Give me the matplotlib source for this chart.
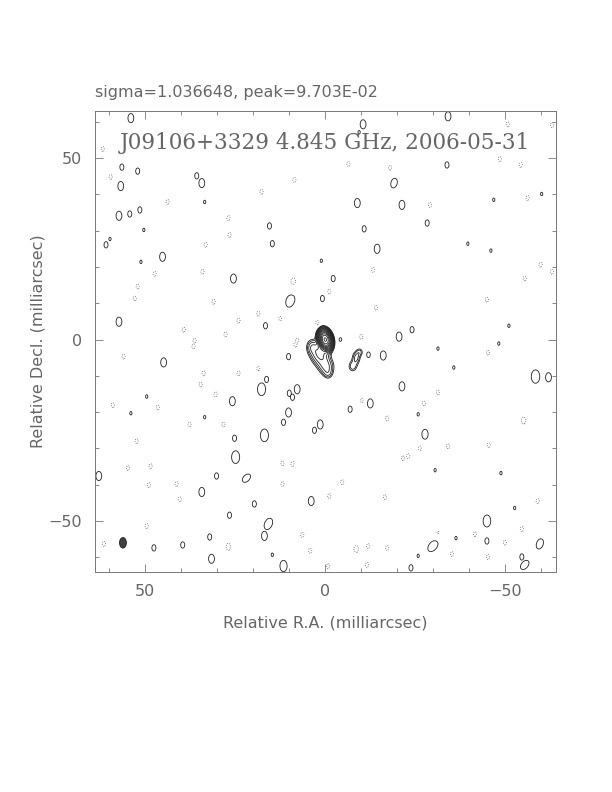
# mapa de contorno VLBI - J09106+3329 4.845 GHz
import numpy as np
import matplotlib.pyplot as plt
from matplotlib.patches import Ellipse

# textos
top_text = 'sigma=1.036648, peak=9.703E-02'
title = 'J09106+3329 4.845 GHz, 2006-05-31'
xlabel = 'Relative R.A. (milliarcsec)'
ylabel = 'Relative Decl. (milliarcsec)'
ticks = [-50, 0, 50]

# componentes da fonte (mas, mJy/beam, sigma x, sigma y, PA graus)
comp_x = [0.0, 1.5, -0.3, 3.8, -0.8, -8.6, -7.6, -9.6, -4.2]
comp_y = [0.0, -4.0, -7.5, -2.0, -9.5, -5.0, -7.4, -3.4, 0.0]
comp_amp = [97.0, 4.5, 2.8, 2.0, 1.3, 2.2, 1.8, 1.4, 1.3]
comp_sx = [0.85, 1.6, 1.4, 1.0, 0.9, 0.8, 0.9, 0.7, 0.5]
comp_sy = [1.3, 2.0, 1.5, 1.4, 1.0, 1.2, 1.1, 0.8, 0.7]
comp_pa = [15, 10, 0, 0, 0, 0, 0, 0, 0]

# manchas de ruido positivas (mas, escala de tamanho)
pos_x = [54.0, 56.5, 52.1, 35.7, 34.3, 56.8, 57.3, 54.3, 51.5, 50.4, 59.8, 60.9,
         45.2, 51.2, 25.5, 57.3, 33.5, -10.5, -9.4, -8.9, -21.3, 15.5, -10.8, 14.7,
         -14.4, 1.1, -2.2, 0.8, 16.6, -20.5, -34.1, -33.8, -28.3, -24.1, -60.1, -46.8,
         -39.6, -46.0, -51.0, 44.9, 25.8, 24.9, 25.2, 62.9, 30.2, 34.3, 26.6, 32.1,
         47.6, 39.6, 31.6, 49.6, 54.0, 33.5, -16.1, -12.0, 10.2, 16.3, 17.7, 7.8,
         10.0, 9.1, -21.3, -12.5, -6.9, 10.2, 11.6, 1.4, 3.0, 16.9, 3.9, 19.7,
         16.9, 14.7, 11.6, -58.4, -62.0, -27.7, -44.9, -44.9, -54.6, -23.8, -31.3, -35.7,
         -25.8, -30.5, -48.8, -52.6, -36.3, -25.8, -48.2]
pos_y = [61.0, 47.5, 46.4, 45.1, 43.1, 42.3, 34.1, 34.6, 35.7, 30.2, 27.7, 26.1,
         22.8, 21.4, 16.8, 4.9, 37.9, 59.3, 57.1, 37.6, 37.1, 31.3, 30.5, 26.4,
         25.0, 21.7, 16.8, 11.3, 3.8, 0.8, 61.5, 48.1, 32.1, 2.7, 40.1, 38.5,
         26.4, 24.5, 3.8, -6.3, -17.0, -32.4, -27.2, -37.6, -37.6, -42.0, -48.4, -54.4,
         -57.4, -56.6, -60.4, -15.7, -20.3, -21.4, -4.4, -4.2, -4.7, -11.0, -13.7, -13.7,
         -14.8, -15.9, -12.9, -17.6, -19.2, -20.1, -22.8, -23.4, -25.0, -26.4, -44.5, -45.3,
         -54.1, -59.3, -62.4, -10.2, -10.4, -26.1, -50.0, -55.5, -59.9, -62.9, -2.5, -7.7,
         -20.6, -36.0, -36.8, -46.4, -54.7, -59.6, -1.1]
pos_size = [1.3, 0.9, 0.9, 0.9, 1.3, 1.3, 1.3, 0.9, 0.9, 0.5, 0.5, 0.9,
            1.3, 0.5, 1.3, 1.3, 0.5, 1.3, 0.5, 1.3, 1.3, 0.9, 0.9, 0.9,
            1.3, 0.5, 0.9, 0.9, 0.9, 1.3, 1.3, 0.9, 0.9, 0.9, 0.5, 0.5,
            0.5, 0.5, 0.5, 1.3, 1.3, 1.8, 0.9, 1.3, 0.9, 1.3, 0.9, 0.9,
            0.9, 0.9, 1.3, 0.5, 0.5, 0.5, 1.3, 0.8, 0.9, 0.9, 1.8, 1.3,
            0.9, 0.9, 1.3, 1.3, 0.9, 1.3, 0.9, 1.3, 0.9, 1.8, 1.3, 0.9,
            1.3, 0.5, 1.6, 1.9, 1.3, 1.4, 1.7, 0.9, 0.9, 0.9, 0.5, 0.5,
            0.5, 0.5, 0.5, 0.5, 0.5, 0.5, 0.5]

# manchas positivas inclinadas
tilt_x = [9.7, 21.9, 15.8, -29.9, -59.6, -55.4, -19.1]
tilt_y = [10.7, -38.2, -50.8, -56.9, -56.3, -62.1, 43.1]
tilt_size = [1.9, 1.4, 1.7, 1.8, 1.5, 1.5, 1.4]
tilt_pa = [-20, -45, -25, -40, -20, -40, -15]

# manchas negativas (contornos pontilhados)
neg_x = [61.8, 59.6, 43.8, 26.9, 26.6, 33.2, 47.4, 34.1, 52.1, 52.9, 31.0, 24.1,
         39.3, 27.7, 36.3, -6.4, 8.6, 17.7, 8.9, -13.3, -1.1, 12.5, 18.6, -10.0,
         -18.0, -14.1, -50.7, -63.0, -48.5, -54.3, -56.2, -29.1, -59.8, -55.4, -63.0, -44.9,
         36.6, 56.0, 33.8, 24.1, 34.6, 30.5, 59.0, 46.5, 37.7, 28.3, 52.4, 54.8,
         48.5, 49.0, 41.3, 40.4, 49.6, 26.9, 61.5, -10.2, -17.2, 11.9, 9.1, -21.6,
         11.9, -4.7, -1.1, -16.6, 6.4, 4.2, -8.6, -11.9, -17.2, -0.8, -11.6, 8.3,
         18.6, -45.2, -31.3, -27.4, -55.1, -26.3, -23.0, -34.1, -45.4, -59.0, -54.6, -31.3,
         -41.6, -35.2, -45.2, -49.9, 7.8, 2.2]
neg_y = [52.5, 44.8, 37.9, 33.5, 28.8, 26.1, 18.1, 18.7, 14.6, 11.3, 10.4, 5.2,
         2.7, 1.4, -0.3, 48.4, 44.0, 40.7, 15.9, 19.2, 13.2, 5.8, 7.1, 0.8,
         47.3, 8.8, 59.3, 59.1, 49.7, 48.1, 39.0, 37.1, 20.6, 16.8, 18.7, 11.0,
         -1.9, -4.7, -9.3, -9.3, -12.4, -15.1, -18.1, -18.7, -23.4, -23.4, -28.0, -35.4,
         -34.9, -40.1, -39.8, -44.0, -51.4, -57.1, -56.3, -16.8, -21.7, -34.1, -34.3, -32.7,
         -39.8, -39.3, -43.1, -43.4, -53.8, -58.2, -57.7, -56.9, -57.4, -62.4, -62.1, -1.4,
         -8.0, -3.6, -14.6, -17.6, -22.3, -29.9, -32.1, -29.4, -29.1, -44.5, -52.2, -53.3,
         -53.6, -59.1, -59.9, -56.0, -0.3, 4.6]
neg_size = [0.7, 0.7, 0.7, 0.7, 0.7, 0.7, 0.7, 0.7, 0.7, 0.7, 0.7, 0.7,
            0.7, 0.7, 0.7, 0.7, 0.7, 0.7, 1.2, 0.7, 0.7, 0.7, 0.7, 0.7,
            0.7, 0.7, 0.7, 0.7, 0.7, 0.7, 0.7, 0.7, 0.7, 0.7, 0.7, 0.7,
            0.7, 0.7, 0.7, 0.7, 0.7, 0.7, 0.7, 0.7, 0.7, 0.7, 0.7, 0.7,
            0.7, 0.7, 0.7, 0.7, 0.7, 1.0, 0.7, 0.7, 0.7, 0.7, 0.7, 0.7,
            0.7, 0.7, 0.7, 0.7, 0.7, 0.7, 1.0, 0.7, 0.7, 0.7, 0.7, 0.7,
            0.7, 0.7, 0.7, 0.7, 1.0, 0.7, 0.7, 0.7, 0.7, 0.7, 0.7, 0.7,
            0.7, 0.7, 0.7, 0.7, 0.7, 0.7]

# feixe (beam): posicao e tamanho FWHM em mas
beam_x, beam_y = 56.2, -56.0
beam_w, beam_h = 1.9, 2.9

# niveis de contorno (mJy/beam)
base = 1.0
levels_pos = base * np.sqrt(2) ** np.arange(0, 14)
levels_neg = [-base]
blob_amp = 1.35
beam_sx, beam_sy = 0.8, 1.25

# grade
step = 0.1
xs = np.arange(-65, 65 + step, step)
ys = np.arange(-65, 65 + step, step)
Zsrc = np.zeros((len(ys), len(xs)))   # fonte (soma)
Zpos = np.zeros((len(ys), len(xs)))   # ruido positivo (maximo)
Zneg = np.zeros((len(ys), len(xs)))   # ruido negativo (minimo)


def gauss(x0, y0, amp, sx, sy, pa):
    w = 5 * max(sx, sy)
    i0, i1 = np.searchsorted(xs, x0 - w), np.searchsorted(xs, x0 + w)
    j0, j1 = np.searchsorted(ys, y0 - w), np.searchsorted(ys, y0 + w)
    X, Y = np.meshgrid(xs[i0:i1] - x0, ys[j0:j1] - y0)
    t = np.radians(pa)
    u = X * np.cos(t) - Y * np.sin(t)
    v = X * np.sin(t) + Y * np.cos(t)
    g = amp * np.exp(-(u**2 / (2 * sx**2) + v**2 / (2 * sy**2)))
    return (slice(j0, j1), slice(i0, i1)), g


for i in range(len(comp_x)):
    sl, g = gauss(comp_x[i], comp_y[i], comp_amp[i], comp_sx[i], comp_sy[i], comp_pa[i])
    Zsrc[sl] += g
for i in range(len(pos_x)):
    sl, g = gauss(pos_x[i], pos_y[i], blob_amp, beam_sx * pos_size[i], beam_sy * pos_size[i], 0)
    Zpos[sl] = np.maximum(Zpos[sl], g)
for i in range(len(tilt_x)):
    sl, g = gauss(tilt_x[i], tilt_y[i], blob_amp, beam_sx * tilt_size[i], beam_sy * tilt_size[i], tilt_pa[i])
    Zpos[sl] = np.maximum(Zpos[sl], g)
for i in range(len(neg_x)):
    sl, g = gauss(neg_x[i], neg_y[i], -blob_amp, beam_sx * neg_size[i], beam_sy * neg_size[i], 0)
    Zneg[sl] = np.minimum(Zneg[sl], g)

Z = np.maximum(Zsrc, Zpos) + Zneg

# plot
fig = plt.figure(figsize=(6.12, 7.92), dpi=100)
ax = fig.add_axes([0.155, 0.278, 0.753, 0.582])
ax.contour(xs, ys, Z, levels=levels_pos, colors='#202020', linewidths=0.6, linestyles='solid')
ax.contour(xs, ys, Z, levels=levels_neg, colors='#606060', linewidths=0.6, linestyles='dotted')
ax.add_patch(Ellipse((beam_x, beam_y), beam_w, beam_h, facecolor='#404040', edgecolor='#202020', lw=0.6))

ax.set_xlim(64, -64)
ax.set_ylim(-64, 63)
ax.set_xticks(ticks)
ax.set_yticks(ticks)
ax.set_xticks(np.arange(-60, 61, 10), minor=True)
ax.set_yticks(np.arange(-60, 61, 10), minor=True)
ax.set_xticklabels(['\u221250', '0', '50'])
ax.set_yticklabels(['\u221250', '0', '50'])
ax.tick_params(which='both', direction='in', top=True, right=True, colors='#777777',
               labelcolor='#666666', labelsize=11.5, width=0.6)
ax.tick_params(which='major', length=6, pad=9)
ax.tick_params(which='minor', length=3)
for s in ax.spines.values():
    s.set_color('#777777')
    s.set_linewidth(0.7)

ax.set_xlabel(xlabel, color='#666666', fontsize=11.5, labelpad=12)
ax.set_ylabel(ylabel, color='#666666', fontsize=11.5, labelpad=2)
ax.text(0.5, 0.93, title, transform=ax.transAxes, ha='center', va='center',
        fontsize=15.5, color='#666666', family='DejaVu Serif')
fig.text(95 / 612, 1 - 92 / 792, top_text, ha='left', va='center', fontsize=11.5, color='#666666')

plt.savefig('out.png', dpi=100)
